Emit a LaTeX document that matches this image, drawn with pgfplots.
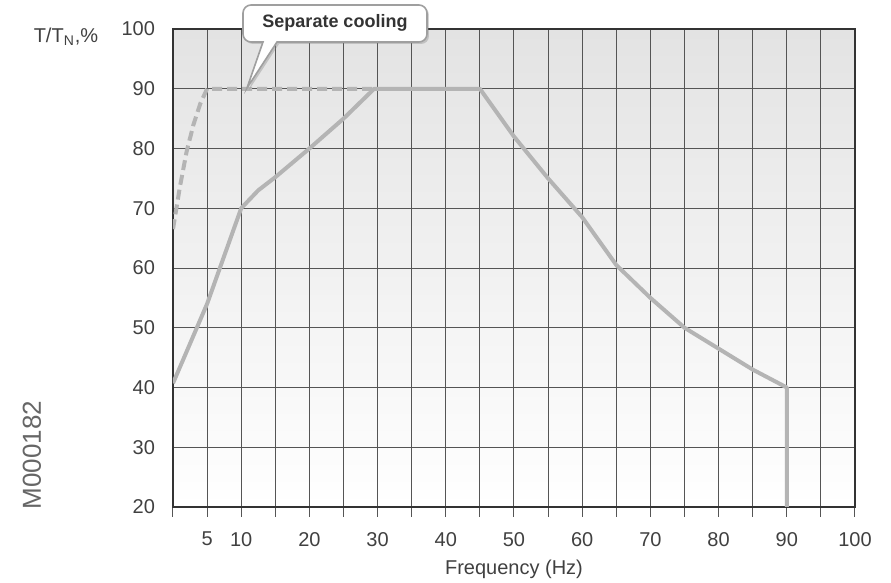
\documentclass[border=0pt]{standalone}
\usepackage{fontspec}
\setmainfont{Liberation Sans}
\usepackage{pgfplots}
\pgfplotsset{compat=1.18}
\usetikzlibrary{shadows}
\definecolor{txt}{HTML}{404040}
\definecolor{curve}{HTML}{B4B4B4}
\definecolor{gridc}{HTML}{555555}
\begin{document}
\begin{tikzpicture}
\begin{axis}[
 at={(0pt,0pt)}, anchor=south west,
 scale only axis, width=341pt, height=239pt,
 xmin=0, xmax=100, ymin=20, ymax=100,
 xtick={0,5,...,100},
 xticklabels={,5,10,,20,,30,,40,,50,,60,,70,,80,,90,,100},
 ytick={20,30,...,100},
 grid=major,
 major grid style={gridc, line width=0.5pt},
 axis line style={draw=black!80, line width=1pt},
 x tick style={gridc, line width=0.5pt},
 xtick pos=bottom, xtick align=outside, major tick length=5pt,
 y tick style={draw=none},
 ytick pos=left,
 tick label style={font=\fontsize{10}{12}\selectfont, text=txt},
 xticklabel style={yshift=-4pt},
 yticklabel style={xshift=-5.5pt},
 /pgf/number format/assume math mode=true,
 xlabel={Frequency (Hz)},
 xlabel style={font=\fontsize{10}{12}\selectfont, text=txt},
 axis background/.style={shade, top color=black!11, bottom color=white},
]
\addplot[curve, line width=2pt, dash pattern=on 5pt off 2.5pt] coordinates {
 (0,66.5) (1,73.5) (2,79.5) (3,84) (4,87.5) (5,90) (30,90)};
\addplot[curve, line width=2pt, line join=round] coordinates {
 (0,40.7) (5,54) (10,70) (12.5,73) (15,75.2) (20,80) (25,85) (29.5,90) (45,90)
 (50,82) (55,75) (60,68.5) (65,60.5) (70,55) (75,50) (80,46.5) (85,43) (90,40) (90,20)};
\end{axis}
% callout
\path[draw=gray!75, line width=0.8pt, fill=white,
      drop shadow={shadow xshift=1pt, shadow yshift=-1pt, opacity=0.35}]
  (45pt,232.5pt) [rounded corners=4pt] -- (35pt,232.5pt) -- (35pt,251pt) -- (127pt,251pt) -- (127pt,232.5pt) [sharp corners] -- (52pt,232.5pt) -- (37pt,209.5pt) -- cycle;
\node[font=\bfseries\fontsize{9}{11}\selectfont, text=black!80] at (81pt,242pt) {Separate cooling};
\node[font=\fontsize{10}{12}\selectfont, text=txt] at (-53.5pt,235pt) {T/T\textsubscript{N},\%};
\node[font=\fontsize{13}{15}\selectfont, text=black!60, rotate=90] at (-70.5pt,26pt) {M000182};
\pgfresetboundingbox
\useasboundingbox (-86.5pt,-38pt) rectangle (359pt,253.5pt);
\end{tikzpicture}
\end{document}
